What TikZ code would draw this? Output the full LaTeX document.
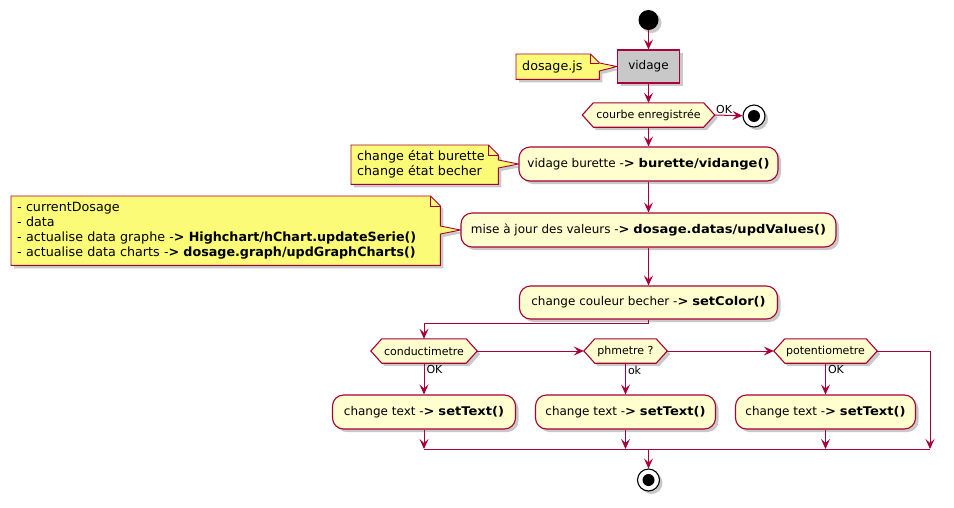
\documentclass[tikz,border=0pt]{standalone}
\usepackage{fontspec}
\setmainfont{DejaVu Sans}
\newfontfamily\wbfam{DejaVu Sans}[FakeStretch=1.09]
\newcommand\bw[1]{{\wbfam\bfseries #1}}
\usetikzlibrary{arrows.meta,shadows,backgrounds,calc}
\definecolor{puborder}{HTML}{A80036}
\definecolor{pufill}{HTML}{FEFECE}
\definecolor{punote}{HTML}{FBFB77}
\definecolor{pugray}{HTML}{C8C8C8}
\begin{document}
\begin{tikzpicture}[x=1pt,y=-1pt,
  shad/.style={drop shadow={shadow xshift=3pt,shadow yshift=-3pt,opacity=0.3,fill=black!70}},
  act/.style={draw=puborder,fill=pufill,line width=1.1pt,rounded corners=11pt,minimum height=34pt,inner sep=0pt,font=\fontsize{12}{14}\selectfont,shad},
  grayact/.style={draw=puborder,fill=pugray,line width=1.1pt,minimum height=33pt,minimum width=62pt,inner sep=0pt,font=\fontsize{12}{14}\selectfont,shad},
  hexlab/.style={minimum height=24pt,inner sep=0pt,font=\fontsize{11}{13}\selectfont},
  hexshape/.style={draw=puborder,fill=pufill,line width=1.1pt,shad},
  notetext/.style={inner xsep=6pt,inner ysep=0pt,align=left,anchor=north west,font=\fontsize{12.7}{15}\selectfont},
  noteshape/.style={draw=puborder,fill=punote,line width=0.9pt,shad},
  arr/.style={draw=puborder,line width=1pt,-{Stealth[length=10pt,width=9pt,inset=4pt]}},
  plain/.style={draw=puborder,line width=1pt},
  lab/.style={font=\fontsize{11}{13}\selectfont,inner sep=1pt},
  startdot/.style={circle,fill=black,minimum size=20pt,inner sep=0pt,shad},
  enddot/.style={circle,draw=black,fill=white,line width=1.1pt,minimum size=22pt,inner sep=0pt,shad,
    path picture={\fill[black] (path picture bounding box.center) circle (6pt);}}
]
\useasboundingbox (0,0) rectangle (954,507);

% main column
\node[startdot] (start) at (648.5,20) {};
\node[grayact] (vid) at (648.5,66.5) {vidage};
\node[hexlab,minimum width=132pt] (h0) at (648.5,115) {courbe enregistrée};
\node[enddot] (e1) at (754,116) {};
\node[act,minimum width=259pt] (b1) at (648.5,164) {vidage burette -\bw{>} \bw{burette/vidange()}};
\node[act,minimum width=375pt] (b2) at (648.5,230) {mise à jour des valeurs -\bw{>} \bw{dosage.datas/updValues()}};
\node[act,minimum width=258pt,minimum height=33pt] (b3) at (648.5,302.5) {change couleur becher -\bw{>} \bw{setColor()}};

% branches
\node[hexlab,minimum width=106pt] (hc) at (424,351) {conductimetre};
\node[hexlab,minimum width=83pt] (hp) at (625.5,351) {phmetre ?};
\node[hexlab,minimum width=103pt] (ht) at (825.5,351) {potentiometre};
\node[act,minimum width=183pt] (bc) at (424,412) {change text -\bw{>} \bw{setText()}};
\node[act,minimum width=180pt] (bp) at (625.5,412) {change text -\bw{>} \bw{setText()}};
\node[act,minimum width=180pt] (bt) at (825.5,412) {change text -\bw{>} \bw{setText()}};
\node[enddot] (e2) at (648.5,480) {};

% notes
\node[notetext,text width=71pt,minimum height=25pt] (n0) at (516,54) {dosage.js};
\node[notetext,text width=135pt,minimum height=39pt] (n1) at (351,145) {change état burette\\change état becher};
\node[notetext,text width=417pt,minimum height=69pt] (n2) at (11,196) {- currentDosage\\- data\\- actualise data graphe -\textbf{>} \textbf{Highchart/hChart.updateSerie()}\\- actualise data charts -\textbf{>} \textbf{dosage.graph/updGraphCharts()}};

\coordinate (split) at (648.5,323);
\coordinate (mC) at (424,449);
\coordinate (mP) at (625.5,449);
\coordinate (mT) at (825.5,449);
\coordinate (mM) at (648.5,449);
\coordinate (mR) at (930,449);

\begin{scope}[on background layer]
  \foreach \h in {h0,hc,hp,ht}{
    \path[hexshape] (\h.west) -- ([xshift=11pt]\h.north west) -- ([xshift=-11pt]\h.north east)
      -- (\h.east) -- ([xshift=-11pt]\h.south east) -- ([xshift=11pt]\h.south west) -- cycle;
  }
  % note outlines with folded corner and pointer
  \path[noteshape] (n0.north west) -- ([xshift=-9pt]n0.north east) -- ([yshift=-9pt]n0.north east)
     -- ($(n0.north east |- vid.west)+(0,-3.5)$) -- (vid.west) -- ($(n0.north east |- vid.west)+(0,4.5)$)
     -- (n0.south east) -- (n0.south west) -- cycle;
  \draw[puborder,line width=0.9pt] ([xshift=-9pt]n0.north east) -- ([xshift=-9pt,yshift=-9pt]n0.north east) -- ([yshift=-9pt]n0.north east);
  \path[noteshape] (n1.north west) -- ([xshift=-10pt]n1.north east) -- ([yshift=-10pt]n1.north east)
     -- ($(n1.north east |- b1.west)+(0,-4)$) -- (b1.west) -- ($(n1.north east |- b1.west)+(0,4)$)
     -- (n1.south east) -- (n1.south west) -- cycle;
  \draw[puborder,line width=0.9pt] ([xshift=-10pt]n1.north east) -- ([xshift=-10pt,yshift=-10pt]n1.north east) -- ([yshift=-10pt]n1.north east);
  \path[noteshape] (n2.north west) -- ([xshift=-10pt]n2.north east) -- ([yshift=-10pt]n2.north east)
     -- ($(n2.north east |- b2.west)+(0,-4)$) -- (b2.west) -- ($(n2.north east |- b2.west)+(0,4)$)
     -- (n2.south east) -- (n2.south west) -- cycle;
  \draw[puborder,line width=0.9pt] ([xshift=-10pt]n2.north east) -- ([xshift=-10pt,yshift=-10pt]n2.north east) -- ([yshift=-10pt]n2.north east);
\end{scope}

% connectors
\draw[arr] (start) -- (vid);
\draw[arr] (vid) -- (h0.north);
\draw[arr] (h0.south) -- (b1);
\draw[arr] (h0.east) -- node[lab,anchor=south west,pos=0]{OK} (e1);
\draw[arr] (b1) -- (b2);
\draw[arr] (b2) -- (b3);
\draw[arr] (b3.south) -- (split) -| (hc.north);
\draw[arr] (hc.east) -- (hp.west);
\draw[arr] (hp.east) -- (ht.west);
\draw[arr] (ht.east) -| (mR);
\draw[arr] (hc.south) -- node[lab,anchor=north west,pos=0,xshift=1pt,yshift=-1pt]{OK} (bc);
\draw[arr] (hp.south) -- node[lab,anchor=north west,pos=0,xshift=1pt,yshift=-1pt]{ok} (bp);
\draw[arr] (ht.south) -- node[lab,anchor=north west,pos=0,xshift=1pt,yshift=-1pt]{OK} (bt);
\draw[arr] (bc.south) -- (mC);
\draw[arr] (bp.south) -- (mP);
\draw[arr] (bt.south) -- (mT);
\draw[plain] (mC) -- (mR);
\draw[arr] (mM) -- (e2);
\end{tikzpicture}
\end{document}
